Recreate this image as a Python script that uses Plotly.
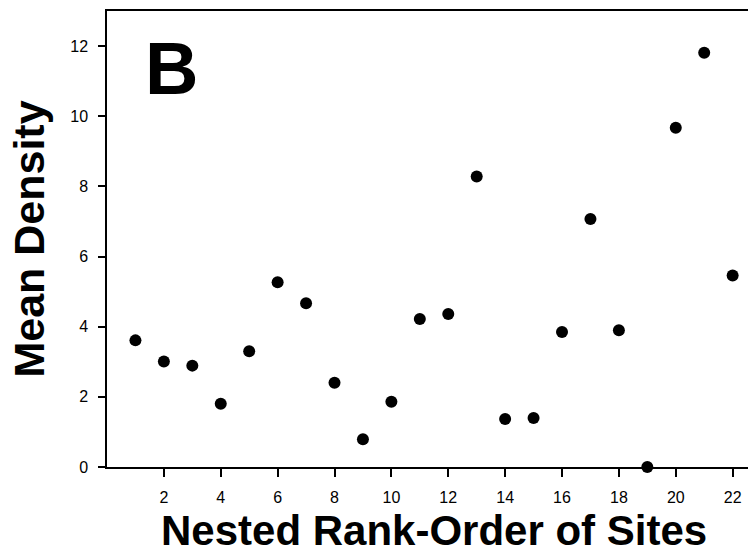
import plotly.graph_objects as go

# Nested rank of each site and its mean density
site_rank = list(range(1, 23))
mean_density = [3.61, 3.01, 2.89, 1.80, 3.30, 5.27, 4.67, 2.40, 0.79, 1.86, 4.22,
                 4.36, 8.28, 1.37, 1.40, 3.85, 7.07, 3.90, 0.0, 9.67, 11.81, 5.46]

x_ticks = list(range(2, 23, 2))
y_ticks = list(range(0, 13, 2))

FONT = "Liberation Sans, Arial, sans-serif"

fig = go.Figure(
    go.Scatter(
        x=site_rank,
        y=mean_density,
        mode="markers",
        marker=dict(size=12, color="black", line=dict(width=0)),
        cliponaxis=False,
        showlegend=False,
    )
)

fig.update_layout(
    width=748,
    height=555,
    margin=dict(l=107, r=0, t=11, b=88),
    paper_bgcolor="white",
    plot_bgcolor="white",
    font=dict(family=FONT, color="black"),
    xaxis=dict(
        range=[0, 22.54],
        tickvals=x_ticks,
        ticks="outside",
        ticklen=8,
        tickwidth=1.5,
        tickcolor="black",
        showline=True,
        linewidth=1.5,
        linecolor="black",
        mirror=True,
        showgrid=False,
        zeroline=False,
        tickfont=dict(size=16, family=FONT),
        ticklabelstandoff=7,
    ),
    yaxis=dict(
        range=[0, 13],
        tickvals=y_ticks,
        ticks="outside",
        ticklen=7,
        tickwidth=1.5,
        tickcolor="black",
        showline=True,
        linewidth=1.5,
        linecolor="black",
        showgrid=False,
        zeroline=False,
        tickfont=dict(size=16, family=FONT),
        ticklabelstandoff=7,
        title=dict(text="<b>Mean Density</b>", font=dict(size=43, family=FONT), standoff=12),
    ),
    annotations=[
        dict(
            text="<b>Nested Rank-Order of Sites</b>",
            xref="paper", yref="paper",
            x=0.5104, y=0,
            xanchor="center", yanchor="top",
            yshift=-38,
            showarrow=False,
            font=dict(size=42, family=FONT),
        ),
        dict(
            text="<b>B</b>",
            xref="paper", yref="paper",
            x=(171.5 - 107) / 641, y=1,
            xanchor="center", yanchor="middle",
            yshift=-57,
            showarrow=False,
            font=dict(size=74, family=FONT),
        ),
    ],
)

fig.write_html("out.html")
